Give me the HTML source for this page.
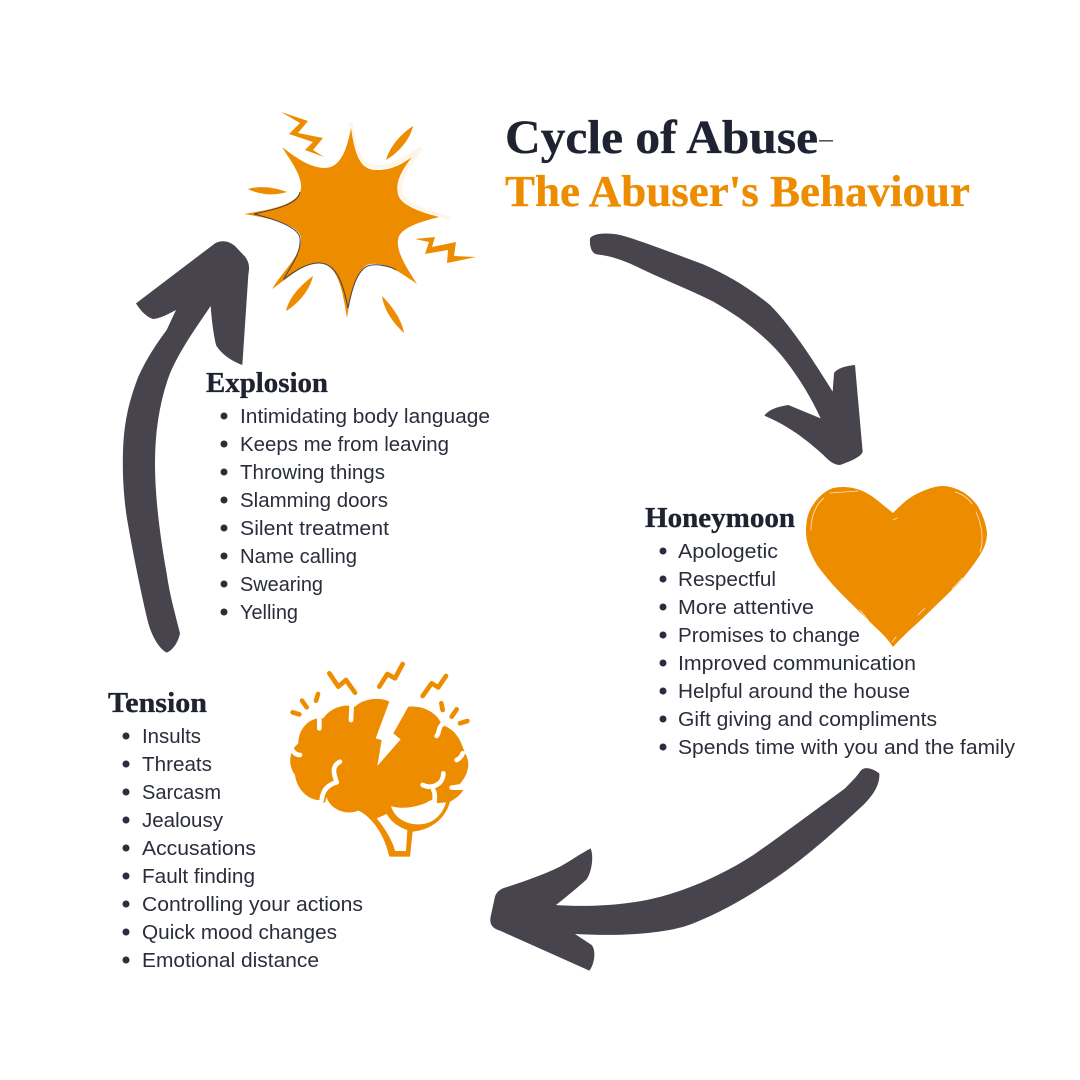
<!DOCTYPE html>
<html><head><meta charset="utf-8"><style>
html,body{margin:0;padding:0;background:#fff}
svg{display:block}
.h{font-family:"Liberation Serif",serif;font-weight:bold;fill:#1f2230;stroke:#1f2230;stroke-width:.35}
.l{font-family:"Liberation Sans",sans-serif;font-size:20px;fill:#2a2d3b}
</style></head><body>
<svg width="1080" height="1080" viewBox="0 0 1080 1080" xmlns="http://www.w3.org/2000/svg">
<rect width="1080" height="1080" fill="#fff"/>
<!-- arrows -->
<g fill="#47444d">
<path transform="translate(580,225) scale(0.33333)" d="M30 40 C40 25 80 22 120 30 C170 42 280 85 370 118 C440 148 510 190 570 240 C630 300 690 390 758 500 L762 445 C770 430 800 422 825 420 L848 680 C845 695 810 710 780 720 C760 720 745 705 730 690 C680 645 630 605 553 572 C565 555 590 545 625 540 L722 580 C690 510 640 430 590 375 C540 320 470 270 400 230 C320 190 240 160 170 125 C130 105 90 92 50 88 C35 85 28 65 30 40 Z"/>
<path transform="translate(480,760) scale(0.33333)" d="M1140 35 C1150 20 1170 20 1198 40 C1200 70 1185 100 1150 135 C1090 190 1000 275 900 345 C820 400 740 450 640 490 C565 520 430 530 285 522 L335 555 C348 570 345 610 328 632 L60 512 C35 505 28 490 32 470 L45 410 C50 395 60 388 75 383 C130 365 190 345 240 320 C275 300 300 282 332 265 C342 290 335 335 320 358 C290 385 260 410 228 435 C290 440 400 440 500 420 C600 400 720 350 820 285 C920 215 1040 125 1095 85 C1115 65 1130 50 1140 35 Z"/>
<path transform="translate(110,230) scale(0.33333)" d="M170 1268 C145 1255 125 1215 115 1180 C95 1100 65 950 50 860 C40 790 36 720 40 640 C44 570 58 510 85 440 C110 385 140 340 170 300 L198 240 C170 255 150 265 130 267 C110 262 90 240 78 220 L315 40 C335 30 355 32 375 48 L405 80 C420 100 418 115 415 135 L397 405 C370 395 335 375 318 345 C310 310 305 270 302 228 C260 290 210 360 180 430 C150 510 135 600 135 700 C135 800 150 920 170 1030 C178 1090 195 1150 210 1210 C205 1235 190 1260 170 1268 Z"/>
</g>
<!-- star -->
<path d="M351 122 C355 155 362 167 378 167 C392 167 404 160 421 148 C405 170 397 182 401 194 C404 203 425 212 449 218" fill="none" stroke="#fdf6e8" stroke-width="4"/>
<path d="M351 128 C355 155 360 171 378 170 C392 170 402 164 412 157 C402 170 395 182 398 194 C400 205 420 212 439 217 C420 222 399 228 398 240 C396 252 408 270 417 284 C400 272 385 262 370 264 C358 266 351 292 347 318 C343 292 338 264 320 263 C305 262 288 278 272 289 C282 272 302 255 301 238 C299 224 268 218 244 214 C268 210 300 205 301 188 C302 175 290 160 282 147 C295 157 310 168 325 168 C340 168 347 150 351 128 Z" fill="#ee8c00"/>
<path d="M348 308 C344 288 338 264 320 263 C305 262 288 276 284 279 C285 274 302 255 300 238 C298 226 270 218 254 214 C272 210 298 205 300 192 M348 308 C352 288 358 266 372 265 C380 264 392 267 396 270" fill="none" stroke="#47444d" stroke-width="1"/>
<g fill="#ee8c00">
<polygon points="281,112 308,121 298,133 323,138 313,150 324,157 305,150 313,142 289,134 300,123"/>
<polygon points="415,239 435,237 432,247 456,242 454,256 476,257 447,263 448,250 425,254 429,242"/>
<path d="M413 126 C410 140 398 153 386 160 C390 146 401 134 413 126Z"/>
<path d="M248 189 C262 185 276 188 287 192 C274 196 260 195 248 189Z"/>
<path d="M313 276 C310 290 298 304 286 311 C289 297 301 285 313 276Z"/>
<path d="M382 296 C392 306 402 320 404 333 C393 323 384 310 382 296Z"/>
</g>
<!-- heart -->
<path d="M893 647 C885 635 878 630 870 622 C858 610 845 598 833 585 C827 578 822 572 817 565 C810 553 806 542 806 532 C806 520 808 512 813 505 C818 497 825 491 833 488 C842 486 852 487 860 490 C868 493 873 497 877 500 C883 505 888 509 893 513 C898 508 902 504 907 500 C912 496 918 493 923 491 C930 488 937 486 943 486 C950 486 957 489 963 492 C969 496 973 500 977 505 C982 513 986 523 987 533 C987 541 984 549 980 555 C973 566 965 576 957 585 C946 596 934 607 923 618 C912 628 902 637 893 647 Z" fill="#ee8c00"/>
<g fill="none" stroke="#fff" stroke-width=".8" stroke-linecap="round" opacity=".8">
<path d="M811 530 C811 518 815 505 824 498"/>
<path d="M830 493 L858 491"/>
<path d="M976 512 C982 525 984 540 980 552"/>
<path d="M955 492 C962 494 968 498 972 504"/>
<path d="M893 520 L897 518"/>
<path d="M962 578 C958 583 955 586 952 589"/>
<path d="M860 610 L868 620 M892 642 L896 637 M918 615 L925 608"/>
</g>
<!-- brain -->
<g transform="translate(280,650) scale(0.33333)">
<path fill="#ee8c00" d="M328 155 C300 140 250 145 225 170 C190 160 150 175 130 205 C90 200 55 235 55 280 C30 300 20 340 45 375 C50 420 90 455 125 450 C130 460 135 465 140 440 C145 470 190 500 235 482 C265 495 310 540 328 620 L390 620 L398 545 C450 540 495 510 510 455 C530 445 545 430 550 420 L520 420 C565 385 575 340 555 310 C540 260 520 235 485 225 C475 190 430 165 385 170 L340 250 L362 268 L292 348 L305 270 L287 265 Z"/>
<path fill="#fff" d="M290 505 C320 540 340 580 345 603 L378 603 L382 540 C350 530 330 510 320 492 Z"/>
<path fill="#fff" d="M333 468 C345 510 390 528 430 522 C470 515 490 485 498 457 L465 460 C462 445 450 450 440 458 C410 470 370 480 333 468 Z"/>
<g fill="none" stroke="#fff" stroke-width="14" stroke-linecap="round" stroke-linejoin="round">
<path d="M215 165 L213 210"/><path d="M118 205 L118 235"/><path d="M35 298 C42 308 48 315 60 315"/>
<path d="M180 335 C150 350 165 380 170 397 C150 402 128 415 125 450"/>
<path d="M428 405 C460 420 490 400 490 370"/><path d="M470 258 C478 250 475 232 485 225"/>
<path d="M548 310 C545 320 538 326 530 330"/><path d="M515 413 L548 408"/><path d="M460 420 C470 440 460 450 465 462"/>
</g>
<g fill="none" stroke="#ee8c00" stroke-width="14" stroke-linecap="round" stroke-linejoin="round">
<polyline points="148,70 175,110 198,90 225,128"/><polyline points="298,110 322,72 345,85 368,42"/><polyline points="428,138 455,100 475,112 498,78"/>
<path d="M38 187 L58 193"/><path d="M66 152 L80 172"/><path d="M114 132 L108 152"/><path d="M484 160 L488 180"/><path d="M530 178 L515 200"/><path d="M540 220 L562 213"/>
</g>
</g>
<!-- titles -->
<text class="h" x="505" y="153" font-size="48" textLength="313" lengthAdjust="spacingAndGlyphs">Cycle of Abuse</text>
<rect x="819" y="140" width="14" height="1.6" fill="#55555f"/>
<text class="h" x="505" y="206" font-size="44" textLength="465" lengthAdjust="spacingAndGlyphs" style="fill:#ee8c00;stroke:#ee8c00">The Abuser's Behaviour</text>
<text class="h" x="206" y="392" font-size="28" textLength="122" lengthAdjust="spacingAndGlyphs">Explosion</text>
<text class="h" x="645" y="527" font-size="28" textLength="150" lengthAdjust="spacingAndGlyphs">Honeymoon</text>
<text class="h" x="108" y="712" font-size="28" textLength="99" lengthAdjust="spacingAndGlyphs">Tension</text>
<!-- lists -->
<g fill="#2a2d3b">
<circle cx="224" cy="416" r="3.5"/><circle cx="224" cy="444" r="3.5"/><circle cx="224" cy="472" r="3.5"/><circle cx="224" cy="500" r="3.5"/><circle cx="224" cy="528" r="3.5"/><circle cx="224" cy="556" r="3.5"/><circle cx="224" cy="584" r="3.5"/><circle cx="224" cy="612" r="3.5"/>
<circle cx="663" cy="551" r="3.5"/><circle cx="663" cy="579" r="3.5"/><circle cx="663" cy="607" r="3.5"/><circle cx="663" cy="635" r="3.5"/><circle cx="663" cy="663" r="3.5"/><circle cx="663" cy="691" r="3.5"/><circle cx="663" cy="719" r="3.5"/><circle cx="663" cy="747" r="3.5"/>
<circle cx="126" cy="736" r="3.5"/><circle cx="126" cy="764" r="3.5"/><circle cx="126" cy="792" r="3.5"/><circle cx="126" cy="820" r="3.5"/><circle cx="126" cy="848" r="3.5"/><circle cx="126" cy="876" r="3.5"/><circle cx="126" cy="904" r="3.5"/><circle cx="126" cy="932" r="3.5"/><circle cx="126" cy="960" r="3.5"/>
</g>
<g>
<text class="l" x="240" y="423" textLength="250" lengthAdjust="spacingAndGlyphs">Intimidating body language</text>
<text class="l" x="240" y="451" textLength="209" lengthAdjust="spacingAndGlyphs">Keeps me from leaving</text>
<text class="l" x="240" y="479" textLength="145" lengthAdjust="spacingAndGlyphs">Throwing things</text>
<text class="l" x="240" y="507" textLength="148" lengthAdjust="spacingAndGlyphs">Slamming doors</text>
<text class="l" x="240" y="535" textLength="149" lengthAdjust="spacingAndGlyphs">Silent treatment</text>
<text class="l" x="240" y="563" textLength="117" lengthAdjust="spacingAndGlyphs">Name calling</text>
<text class="l" x="240" y="591" textLength="83" lengthAdjust="spacingAndGlyphs">Swearing</text>
<text class="l" x="240" y="619" textLength="58" lengthAdjust="spacingAndGlyphs">Yelling</text>
<text class="l" x="678" y="558" textLength="100" lengthAdjust="spacingAndGlyphs">Apologetic</text>
<text class="l" x="678" y="586" textLength="98" lengthAdjust="spacingAndGlyphs">Respectful</text>
<text class="l" x="678" y="614" textLength="136" lengthAdjust="spacingAndGlyphs">More attentive</text>
<text class="l" x="678" y="642" textLength="182" lengthAdjust="spacingAndGlyphs">Promises to change</text>
<text class="l" x="678" y="670" textLength="238" lengthAdjust="spacingAndGlyphs">Improved communication</text>
<text class="l" x="678" y="698" textLength="232" lengthAdjust="spacingAndGlyphs">Helpful around the house</text>
<text class="l" x="678" y="726" textLength="259" lengthAdjust="spacingAndGlyphs">Gift giving and compliments</text>
<text class="l" x="678" y="754" textLength="337" lengthAdjust="spacingAndGlyphs">Spends time with you and the family</text>
<text class="l" x="142" y="743" textLength="59" lengthAdjust="spacingAndGlyphs">Insults</text>
<text class="l" x="142" y="771" textLength="70" lengthAdjust="spacingAndGlyphs">Threats</text>
<text class="l" x="142" y="799" textLength="79" lengthAdjust="spacingAndGlyphs">Sarcasm</text>
<text class="l" x="142" y="827" textLength="81" lengthAdjust="spacingAndGlyphs">Jealousy</text>
<text class="l" x="142" y="855" textLength="114" lengthAdjust="spacingAndGlyphs">Accusations</text>
<text class="l" x="142" y="883" textLength="113" lengthAdjust="spacingAndGlyphs">Fault finding</text>
<text class="l" x="142" y="911" textLength="221" lengthAdjust="spacingAndGlyphs">Controlling your actions</text>
<text class="l" x="142" y="939" textLength="195" lengthAdjust="spacingAndGlyphs">Quick mood changes</text>
<text class="l" x="142" y="967" textLength="177" lengthAdjust="spacingAndGlyphs">Emotional distance</text>
</g>
</svg>
</body></html>
